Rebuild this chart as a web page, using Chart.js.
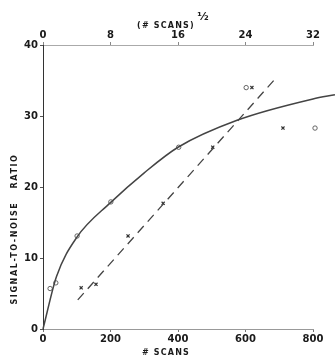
<!DOCTYPE html>
<html>
<head>
<meta charset="utf-8">
<script src="https://cdn.jsdelivr.net/npm/chart.js@4.4.1/dist/chart.umd.min.js"></script>
<style>
  html, body { margin: 0; padding: 0; background: #fff; }
  #wrap { width: 335px; height: 358px; position: relative; }
</style>
</head>
<body>
<div id="wrap"><canvas id="snrChart"></canvas></div>
<script>
// Fitted curve (solid)
const curveX = [0, 40, 100, 200, 300, 400, 575, 800, 865];
const curveY = [0, 7.4, 12.9, 17.8, 22.0, 25.6, 29.4, 32.4, 33];

// Linear fit vs sqrt(scans) (dashed)
const dashX = [103, 693];
const dashY = [4.1, 35.5];

// Measured points: circles (vs # scans)
const circleX = [21, 38, 101, 201, 402, 602, 806];
const circleY = [5.7, 6.5, 13.1, 17.9, 25.6, 34, 28.3];

// Measured points: crosses (vs sqrt # scans)
const crossX = [113, 157, 252, 356, 503, 619, 711];
const crossY = [5.8, 6.3, 13.1, 17.7, 25.6, 34, 28.3];

// Axis ticks
const bottomTicks = [0, 200, 400, 600, 800];
const topTicks = [0, 8, 16, 24, 32];
const leftTicks = [0, 10, 20, 30, 40];

const toPts = (xs, ys) => xs.map((x, i) => ({ x: x, y: ys[i] }));

const tickFont = { family: 'DejaVu Sans', size: 10, weight: 'bold' };
const ink = '#1a1a1a';

// Titles drawn by hand: top one has a raised 1/2, y one is off-centre
const titlesPlugin = {
    id: 'titles',
    afterDraw(chart) {
        const ctx = chart.ctx;
        ctx.save();
        ctx.fillStyle = ink;
        ctx.textBaseline = 'middle';
        ctx.textAlign = 'center';
        if (ctx.letterSpacing !== undefined) ctx.letterSpacing = '1.2px';
        ctx.font = 'bold 8px "DejaVu Sans"';
        ctx.fillText('(# SCANS)', 166, 26);
        ctx.fillText('# SCANS', 166, 353);
        if (ctx.letterSpacing !== undefined) ctx.letterSpacing = '0px';
        ctx.font = 'bold 11px "DejaVu Sans"';
        ctx.fillText('½', 203, 17);

        if (ctx.letterSpacing !== undefined) ctx.letterSpacing = '1.6px';
        ctx.font = 'bold 8px "DejaVu Sans"';
        ctx.translate(15, 229);
        ctx.rotate(-Math.PI / 2);
        ctx.fillText('SIGNAL-TO-NOISE   RATIO', 0, 0);
        ctx.restore();
    }
};

const ctx = document.getElementById('snrChart');
new Chart(ctx, {
    type: 'scatter',
    data: {
        datasets: [
            {
                data: toPts(curveX, curveY),
                showLine: true,
                borderColor: '#444',
                borderWidth: 1.5,
                pointRadius: 0,
                cubicInterpolationMode: 'monotone',
                clip: false
            },
            {
                data: toPts(dashX, dashY),
                showLine: true,
                borderColor: '#444',
                borderWidth: 1.3,
                borderDash: [9, 6],
                pointRadius: 0,
                clip: false
            },
            {
                data: toPts(circleX, circleY),
                pointStyle: 'circle',
                pointRadius: 2.2,
                borderColor: '#555',
                borderWidth: 0.9,
                backgroundColor: 'rgba(0,0,0,0)',
                clip: false
            },
            {
                data: toPts(crossX, crossY),
                pointStyle: 'crossRot',
                pointRadius: 2.2,
                borderColor: '#333',
                borderWidth: 1.2,
                clip: false
            }
        ]
    },
    options: {
        responsive: true,
        maintainAspectRatio: false,
        animation: false,
        layout: { padding: { left: 0, right: 22, top: 0, bottom: 0 } },
        plugins: {
            legend: { display: false },
            tooltip: { enabled: false }
        },
        scales: {
            x: {
                type: 'linear',
                position: 'bottom',
                // limits set here (not min/max) so the curve may run past 800
                afterDataLimits: s => { s.min = 0; s.max = 800; },
                afterBuildTicks: s => { s.ticks = bottomTicks.map(v => ({ value: v })); },
                afterFit: s => { s.height = 29; },
                border: { display: true, color: '#999', width: 1 },
                grid: { drawOnChartArea: false, drawTicks: true, tickLength: 3, color: '#777' },
                ticks: { color: ink, font: tickFont, padding: 1, maxRotation: 0 }
            },
            x2: {
                type: 'linear',
                position: 'top',
                min: 0,
                max: 32,
                afterBuildTicks: s => { s.ticks = topTicks.map(v => ({ value: v })); },
                afterFit: s => { s.height = 45; },
                border: { display: true, color: '#aaa', width: 1 },
                grid: { drawOnChartArea: false, drawTicks: true, tickLength: 3, color: '#888' },
                ticks: { color: ink, font: tickFont, padding: 1, maxRotation: 0 }
            },
            y: {
                type: 'linear',
                min: 0,
                max: 40,
                afterBuildTicks: s => { s.ticks = leftTicks.map(v => ({ value: v })); },
                afterFit: s => { s.width = 43; },
                border: { display: true, color: '#333', width: 1 },
                grid: { drawOnChartArea: false, drawTicks: true, tickLength: 3, color: '#555' },
                ticks: { color: ink, font: tickFont, padding: 2 }
            }
        }
    },
    plugins: [titlesPlugin]
});
</script>
</body>
</html>
